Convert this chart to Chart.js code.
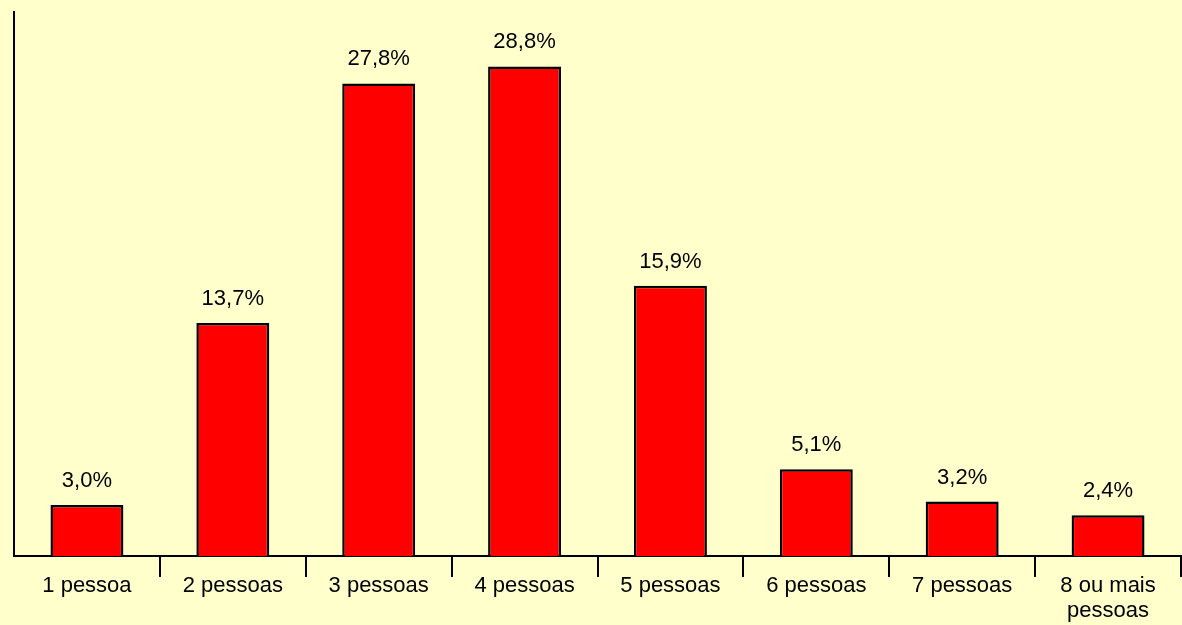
<!DOCTYPE html>
<html>
<head>
<meta charset="utf-8">
<script src="https://cdn.jsdelivr.net/npm/chart.js@4"></script>
<style>
  html, body { margin: 0; padding: 0; background: #ffffcc; }
  #wrap { width: 1182px; height: 625px; position: relative; }
</style>
</head>
<body>
<div id="wrap"><canvas id="chart"></canvas></div>
<script>
'use strict';

// ── data ──
const categories = ['1 pessoa', '2 pessoas', '3 pessoas', '4 pessoas', '5 pessoas', '6 pessoas', '7 pessoas', ['8 ou mais', 'pessoas']];
const shares = [3.0, 13.7, 27.8, 28.8, 15.9, 5.1, 3.2, 2.4];
const yMax = 32;

const FONT = "'Liberation Sans', Arial, sans-serif";
Chart.defaults.font.family = FONT;
Chart.defaults.color = '#000';

const fmt = v => v.toFixed(1).replace('.', ',') + '%';

// value labels above bars + category labels under the axis
const textLayer = {
  id: 'textLayer',
  afterDraw(chart) {
    const ctx = chart.ctx;
    const meta = chart.getDatasetMeta(0);
    const x = chart.scales.x;
    ctx.save();
    ctx.font = '22px ' + FONT;
    ctx.fillStyle = '#000';
    ctx.textAlign = 'center';
    ctx.textBaseline = 'alphabetic';
    meta.data.forEach((bar, i) => {
      ctx.fillText(fmt(shares[i]), bar.x, bar.y - 18);
    });
    categories.forEach((lab, i) => {
      const lines = Array.isArray(lab) ? lab : [lab];
      const px = x.getPixelForTick(i);
      lines.forEach((ln, j) => ctx.fillText(ln, px, x.top + 36 + j * 25));
    });
    ctx.restore();
  }
};

new Chart(document.getElementById('chart'), {
  type: 'bar',
  data: {
    labels: categories,
    datasets: [{
      data: shares,
      backgroundColor: '#ff0000',
      borderColor: '#000',
      borderWidth: 2.5,
      borderSkipped: 'bottom',
      barPercentage: 0.5,
      categoryPercentage: 1.0
    }]
  },
  options: {
    responsive: true,
    maintainAspectRatio: false,
    animation: false,
    layout: { padding: { left: 14, top: 12, right: 1, bottom: 48 } },
    plugins: { legend: { display: false }, tooltip: { enabled: false } },
    scales: {
      x: {
        offset: true,
        grid: {
          offset: true,
          drawOnChartArea: false,
          drawTicks: true,
          tickLength: 21,
          lineWidth: 2,
          color: ctx => ctx.index === 0 ? 'rgba(0,0,0,0)' : '#000'
        },
        border: { display: true, color: '#000', width: 2 },
        ticks: { display: false, autoSkip: false }
      },
      y: {
        min: 0,
        max: yMax,
        grid: { display: false, drawTicks: false },
        border: { display: true, color: '#000', width: 2 },
        ticks: { display: false }
      }
    }
  },
  plugins: [textLayer]
});
</script>
</body>
</html>
